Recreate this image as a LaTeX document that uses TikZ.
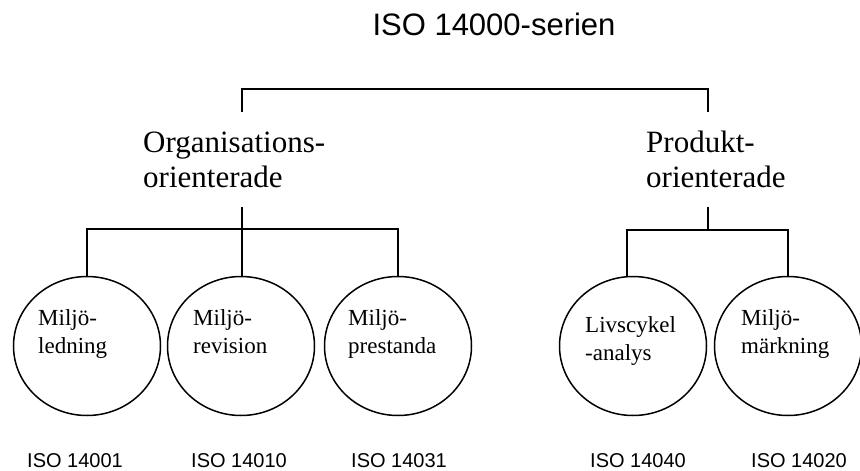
\documentclass[tikz,border=0pt]{standalone}
\usepackage{fontspec}
\setmainfont{Liberation Serif}
\setsansfont{Liberation Sans}
\usetikzlibrary{shapes.geometric}

% two-line label whose baseline is that of its first line
\newcommand{\twolines}[2]{\begin{tabular}[t]{@{}l@{}}#1\\#2\end{tabular}}

\tikzset{
  wire/.style={line width=1.5pt},
  area/.style={ellipse, draw, line width=1.5pt, minimum width=147pt,
               minimum height=139pt, inner sep=0pt},
  headtext/.style={font=\sffamily\fontsize{31}{35}\selectfont, inner sep=0pt, anchor=base},
  grouptext/.style={font=\fontsize{31}{35}\selectfont, inner sep=0pt, anchor=base west},
  areatext/.style={font=\fontsize{23}{28}\selectfont, inner sep=0pt, anchor=base west},
  isotext/.style={font=\sffamily\fontsize{20}{24}\selectfont, inner sep=0pt, anchor=base west}
}

\begin{document}
\begin{tikzpicture}[x=1pt, y=-1pt]
\useasboundingbox (0,0) rectangle (860,471);

% heading
\node[headtext] (title) at (494,35) {ISO 14000-serien};

% the two groups
\node[grouptext] (org)  at (143,152) {\twolines{Organisations-}{orienterade}};
\node[grouptext] (prod) at (646,152) {\twolines{Produkt-}{orienterade}};

% standard areas
\node[area] (c1) at (87,346)  {};
\node[area] (c2) at (241,346) {};
\node[area] (c3) at (398,346) {};
\node[area] (c4) at (633,346) {};
\node[area] (c5) at (788,346) {};

\node[areatext] (t1) at (38,325)  {\twolines{Miljö-}{ledning}};
\node[areatext] (t2) at (193,325) {\twolines{Miljö-}{revision}};
\node[areatext] (t3) at (348,325) {\twolines{Miljö-}{prestanda}};
\node[areatext] (t4) at (585,332) {\twolines{Livscykel}{-analys}};
\node[areatext] (t5) at (741,325) {\twolines{Miljö-}{märkning}};

% standard numbers
\node[isotext] (iso1) at (27,467)  {ISO 14001};
\node[isotext] (iso2) at (191,467) {ISO 14010};
\node[isotext] (iso3) at (351,467) {ISO 14031};
\node[isotext] (iso4) at (590,467) {ISO 14040};
\node[isotext] (iso5) at (751,467) {ISO 14020};

% tree connectors
\coordinate (orgtop)  at (242,112);
\coordinate (prodtop) at (708,112);
\coordinate (split)   at (475,89);
\coordinate (orgbot)  at (242,207);
\coordinate (orgbar)  at (242,229);
\coordinate (prodbot) at (708,207);
\coordinate (prodbar) at (708,230);
\coordinate (prodleft) at (627,230);

\draw[wire] (orgtop) |- (split) -| (prodtop);

\draw[wire] (orgbot) -- (orgbar);
\draw[wire] (c1.north) |- (orgbar) -| (c3.north);
\draw[wire] (orgbar) -- (orgbar |- c2.north);

\draw[wire] (prodbot) -- (prodbar);
\draw[wire] (prodleft |- c4.north) -- (prodleft) -| (c5.north);
\end{tikzpicture}
\end{document}
